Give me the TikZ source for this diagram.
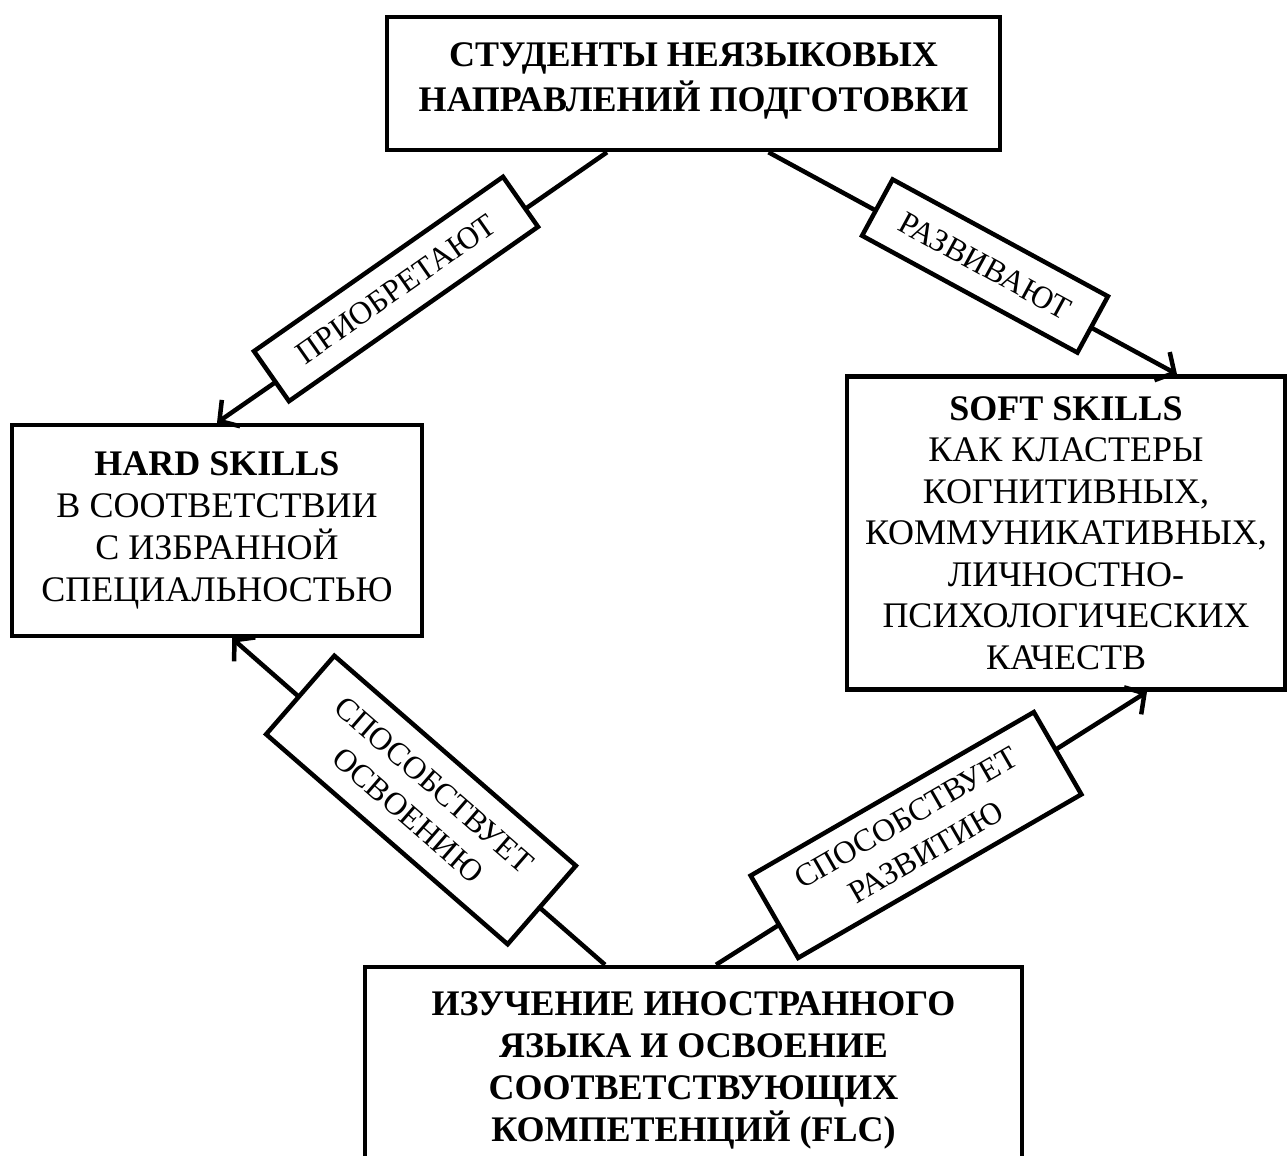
\documentclass[tikz,border=0pt]{standalone}
\usepackage{fontspec}
\setmainfont{Liberation Serif}
\usetikzlibrary{arrows.meta}
\begin{document}
\begin{tikzpicture}[x=1pt,y=-1pt,
  box/.style={draw,line width=4.5pt,align=center,font=\fontsize{36}{42}\selectfont,inner sep=0pt},
  lab/.style={draw,fill=white,line width=4.5pt,align=center,font=\fontsize{32}{40}\selectfont,inner sep=0pt},
  conn/.style={line width=4.5pt,-{Straight Barb[length=14pt,width=32pt,line width=4.5pt]}}]
\useasboundingbox (0,0) rectangle (1288,1156);
\node[box,minimum width=613pt,minimum height=133pt,font=\fontsize{36}{45}\selectfont\bfseries] (top) at (693.5,83.5)
  {СТУДЕНТЫ НЕЯЗЫКОВЫХ\\НАПРАВЛЕНИЙ ПОДГОТОВКИ\\[-32pt]};
\node[box,minimum width=410pt,minimum height=211pt] (hard) at (217,530.5)
  {\bfseries HARD SKILLS\\В СООТВЕТСТВИИ\\С ИЗБРАННОЙ\\СПЕЦИАЛЬНОСТЬЮ};
\node[box,minimum width=438pt,minimum height=313pt,font=\fontsize{36}{41.5}\selectfont] (soft) at (1066,533)
  {\bfseries SOFT SKILLS\\КАК КЛАСТЕРЫ\\КОГНИТИВНЫХ,\\КОММУНИКАТИВНЫХ,\\ЛИЧНОСТНО-\\ПСИХОЛОГИЧЕСКИХ\\КАЧЕСТВ};
\node[box,minimum width=657pt,minimum height=206pt,font=\fontsize{36}{42}\selectfont\bfseries] (bot) at (693.5,1070)
  {ИЗУЧЕНИЕ ИНОСТРАННОГО\\ЯЗЫКА И ОСВОЕНИЕ\\СООТВЕТСТВУЮЩИХ\\КОМПЕТЕНЦИЙ (FLC)};
\draw[conn] ([xshift=-86.5pt]top.south) -- (hard.north);
\draw[conn] ([xshift=75pt]top.south) -- ([xshift=111pt]soft.north);
\draw[conn] ([xshift=-88.5pt]bot.north) -- ([xshift=15pt]hard.south);
\draw[conn] ([xshift=22.5pt]bot.north) -- ([xshift=81pt]soft.south);
\node[lab,rotate=35,minimum width=304pt,minimum height=61pt] (l1) at (396,289) {ПРИОБРЕТАЮТ};
\node[lab,rotate=-28.5,minimum width=245pt,minimum height=64pt] (l2) at (985,266) {РАЗВИВАЮТ};
\node[lab,rotate=-41,minimum width=320pt,minimum height=104pt] (l3) at (421,800) {СПОСОБСТВУЕТ\\ОСВОЕНИЮ};
\node[lab,rotate=30,minimum width=327pt,minimum height=95pt] (l4) at (916,835) {СПОСОБСТВУЕТ\\РАЗВИТИЮ};
\end{tikzpicture}
\end{document}
